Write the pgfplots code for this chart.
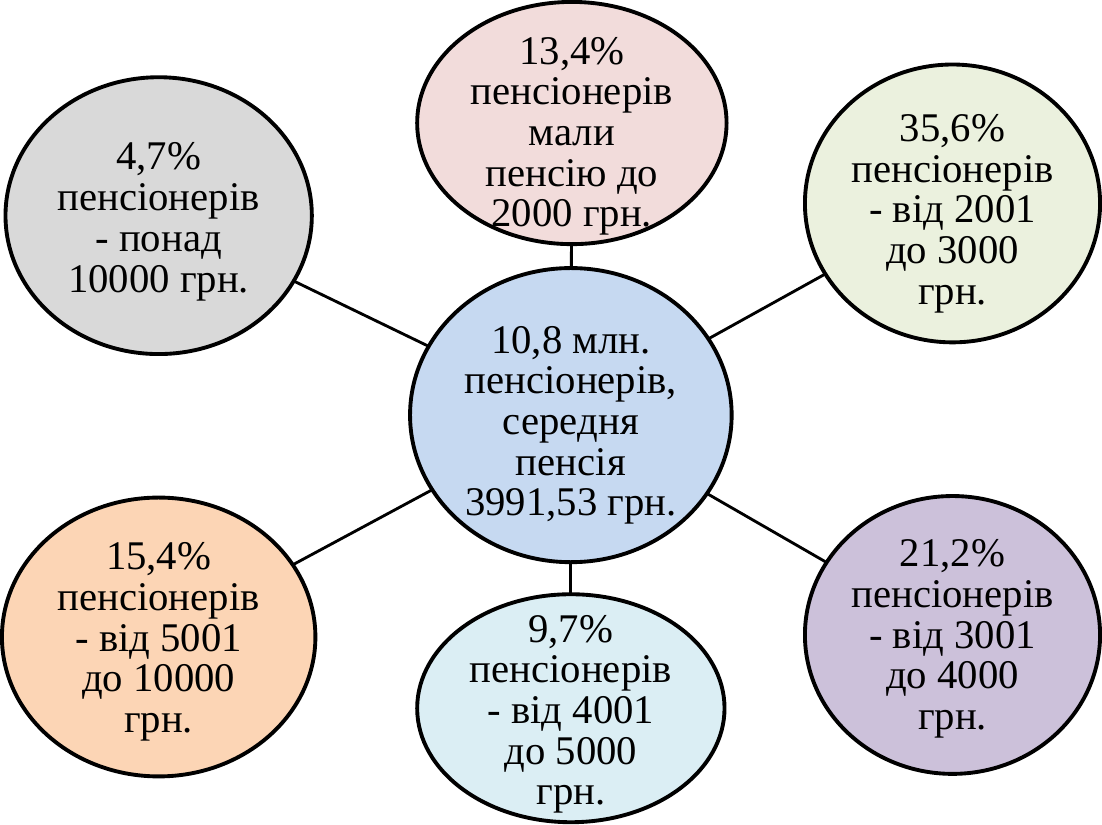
\documentclass[border=0pt]{standalone}
\usepackage{pgfplots}
\pgfplotsset{compat=1.18}
\usepackage{fontspec}
\setmainfont{Liberation Serif}
\usetikzlibrary{shapes.geometric}
\definecolor{cpink}{HTML}{F2DCDB}
\definecolor{cgray}{HTML}{D9D9D9}
\definecolor{cgreen}{HTML}{EBF1DE}
\definecolor{corange}{HTML}{FCD5B5}
\definecolor{ccenter}{HTML}{C6D9F1}
\definecolor{caqua}{HTML}{DBEEF4}
\definecolor{cpurple}{HTML}{CCC1DA}
\newcommand{\bubble}[7]{%
\addplot[draw=none, mark=none, nodes near coords={},
  every node near coord/.append style={anchor=center, shape=ellipse, draw=black,
  line width=3.8pt, fill=#5, inner sep=0pt, minimum width=#3pt, minimum height=#4pt,
  label={[align=center, text=black, font=\rmfamily\fontsize{40}{40}\selectfont, inner sep=0pt, yshift=#7pt]center:{#6}}}]
  coordinates {(#1,#2)};}
\begin{document}
\begin{tikzpicture}
\begin{axis}[scale only axis, width=1102pt, height=823pt,
  xmin=0, xmax=1102, ymin=0, ymax=823, hide axis, clip=false]
% connectors (centre to each bubble)
\addplot[black, line width=2.8pt] coordinates {(575,407) (576,694)};
\addplot[black, line width=2.8pt] coordinates {(575,407) (170,603)};
\addplot[black, line width=2.8pt] coordinates {(575,407) (950,615)};
\addplot[black, line width=2.8pt] coordinates {(575,407) (170,189)};
\addplot[black, line width=2.8pt] coordinates {(575,407) (575,119)};
\addplot[black, line width=2.8pt] coordinates {(575,407) (950,191)};
% bubbles
\bubble{576}{694}{304}{238}{cpink}{13,4\%\\пенсіонерів\\мали\\пенсію до\\2000 грн.}{-13}
\bubble{170}{603}{301}{272}{cgray}{4,7\%\\пенсіонерів\\- понад\\10000 грн.}{-6}
\bubble{950}{615}{290}{273}{cgreen}{35,6\%\\пенсіонерів\\- від 2001\\до 3000\\грн.}{-10}
\bubble{170}{189}{308}{274}{corange}{15,4\%\\пенсіонерів\\- від 5001\\до 10000\\грн.}{-5}
\bubble{575}{119}{302}{224}{caqua}{9,7\%\\пенсіонерів\\- від 4001\\до 5000\\грн.}{-6}
\bubble{950}{191}{290}{273}{cpurple}{21,2\%\\пенсіонерів\\- від 3001\\до 4000\\грн.}{-4}
\bubble{575}{407}{316}{289}{ccenter}{10,8 млн.\\пенсіонерів,\\середня\\пенсія\\3991,53 грн.}{-10}
\end{axis}
\end{tikzpicture}
\end{document}
